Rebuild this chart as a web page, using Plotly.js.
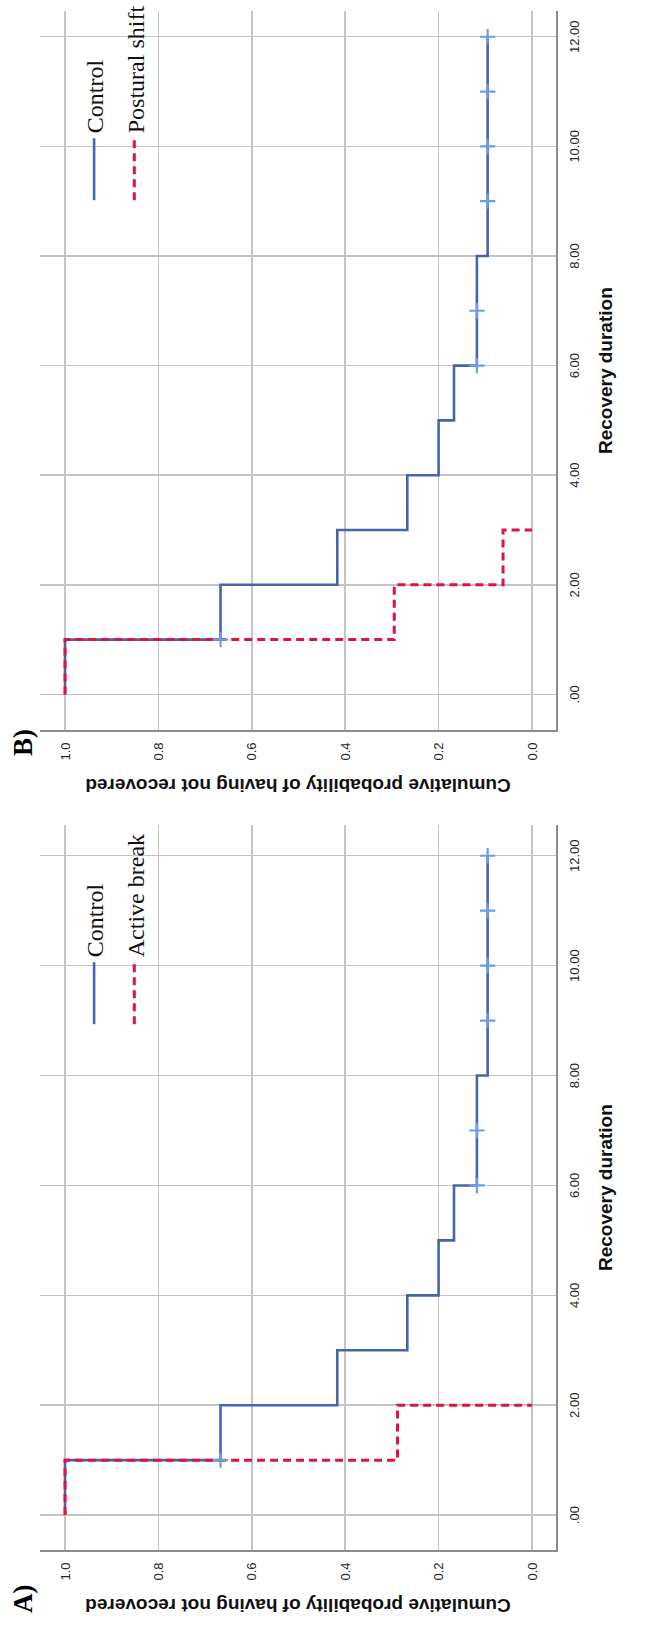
<!DOCTYPE html>
<html>
<head>
<meta charset="utf-8">
<script src="https://cdn.plot.ly/plotly-3.0.1.min.js"></script>
<style>
  html, body { margin: 0; padding: 0; background: #ffffff; }
  body { width: 660px; height: 1629px; overflow: hidden; position: relative; }
  /* The two Kaplan-Meier panels are laid out side by side (1629 x 660)
     and the whole figure is turned a quarter turn counter-clockwise. */
  #fig {
    position: absolute; left: 0; top: 0;
    width: 1629px; height: 660px;
    transform-origin: 0 0;
    transform: translateY(1629px) rotate(-90deg);
  }
</style>
</head>
<body>
<div id="fig"></div>
<script>
// Kaplan-Meier estimates: cumulative probability of having not recovered
const timeControl = [0, 1, 2, 3, 4, 5, 6, 8, 12];
const survControl = [1.0, 0.667, 0.417, 0.267, 0.2, 0.167, 0.118, 0.095, 0.095];
const censorTimeControl = [1, 6, 7, 9, 10, 11, 12];
const censorSurvControl = [0.667, 0.118, 0.118, 0.095, 0.095, 0.095, 0.095];

const timeActiveBreak = [0, 1, 2];
const survActiveBreak = [1.0, 0.288, 0.0];

const timePosturalShift = [0, 1, 2, 3];
const survPosturalShift = [1.0, 0.295, 0.062, 0.0];

const timeTickVals = [0, 2, 4, 6, 8, 10, 12];
const timeTickText = ['.00', '2.00', '4.00', '6.00', '8.00', '10.00', '12.00'];
const probTickVals = [0, 0.2, 0.4, 0.6, 0.8, 1.0];
const probTickText = ['0.0', '0.2', '0.4', '0.6', '0.8', '1.0'];

const W = 1629, H = 660;
const BLUE = '#4565ab';
const RED = '#dc1446';
const CENSOR = '#6a9fe6';

function controlTrace(xa, ya, legend) {
  return {
    x: timeControl, y: survControl, xaxis: xa, yaxis: ya,
    type: 'scatter', mode: 'lines', line: { shape: 'hv', color: BLUE, width: 2.6 },
    name: 'Control', legend: legend, legendgroup: legend + 'c', legendrank: 1
  };
}
function censorTrace(xa, ya) {
  return {
    x: censorTimeControl, y: censorSurvControl, xaxis: xa, yaxis: ya,
    type: 'scatter', mode: 'markers', showlegend: false,
    marker: { symbol: 'cross-thin', size: 11, line: { color: CENSOR, width: 2.2 } }
  };
}
function groupTrace(t, s, name, xa, ya, legend) {
  return {
    x: t, y: s, xaxis: xa, yaxis: ya,
    type: 'scatter', mode: 'lines',
    line: { shape: 'hv', color: RED, width: 3, dash: '8px,5px' },
    name: name, legend: legend, legendgroup: legend + 'g', legendrank: 2
  };
}

const data = [
  controlTrace('x', 'y', 'legend'),
  groupTrace(timeActiveBreak, survActiveBreak, 'Active break', 'x', 'y', 'legend'),
  censorTrace('x', 'y'),
  controlTrace('x2', 'y2', 'legend2'),
  groupTrace(timePosturalShift, survPosturalShift, 'Postural shift', 'x2', 'y2', 'legend2'),
  censorTrace('x2', 'y2')
];

const tickFont = { family: 'Liberation Sans, Arial, sans-serif', size: 13, color: '#262626' };
const titleFont = { family: 'Liberation Sans, Arial, sans-serif', size: 19, color: '#111111', weight: 'bold' };

function timeAxis(domain, range, anchor) {
  return {
    domain: domain, range: range, anchor: anchor,
    tickmode: 'array', tickvals: timeTickVals, ticktext: timeTickText,
    showgrid: true, gridcolor: '#c4c4c4', gridwidth: 1.5,
    zeroline: false, showline: true, linecolor: '#8c8c8c', linewidth: 1.5,
    ticks: '', ticklabelstandoff: 6, tickfont: tickFont,
    title: { text: 'Recovery duration', font: titleFont, standoff: 17 }
  };
}
function probAxis(anchor) {
  return {
    domain: [1 - 556 / H, 1 - 40 / H], range: [-0.0514, 1.0536], anchor: anchor,
    tickmode: 'array', tickvals: probTickVals, ticktext: probTickText,
    showgrid: true, gridcolor: '#c4c4c4', gridwidth: 1.5,
    zeroline: false, showline: true, linecolor: '#8c8c8c', linewidth: 1.5,
    ticks: '', ticklabelstandoff: 8, tickfont: tickFont,
    title: { text: 'Cumulative probability of having not recovered', font: titleFont, standoff: 13 }
  };
}

const legendFont = { family: 'Liberation Serif, Times New Roman, serif', size: 24, color: '#111111' };

const layout = {
  width: W, height: H,
  margin: { l: 0, r: 0, t: 0, b: 0 },
  paper_bgcolor: '#ffffff', plot_bgcolor: '#ffffff',
  showlegend: true,
  xaxis: timeAxis([79 / W, 807 / W], [-0.64, 12.56], 'y'),
  yaxis: probAxis('x'),
  xaxis2: timeAxis([902 / W, 1624 / W], [-0.655, 12.47], 'y2'),
  yaxis2: probAxis('x2'),
  legend: {
    x: 602 / W, y: 1 - 72 / H, xanchor: 'left', yanchor: 'top',
    bgcolor: 'rgba(0,0,0,0)', font: legendFont, tracegroupgap: 6, traceorder: 'grouped',
    itemwidth: 62
  },
  legend2: {
    x: 1429 / W, y: 1 - 72 / H, xanchor: 'left', yanchor: 'top',
    bgcolor: 'rgba(0,0,0,0)', font: legendFont, tracegroupgap: 6, traceorder: 'grouped',
    itemwidth: 62
  },
  annotations: [
    { text: '<b>A)</b>', xref: 'paper', yref: 'paper', x: 14 / W, y: 1 - 6 / H,
      xanchor: 'left', yanchor: 'top', showarrow: false,
      font: { family: 'Liberation Serif, Times New Roman, serif', size: 27, color: '#000000' } },
    { text: '<b>B)</b>', xref: 'paper', yref: 'paper', x: 874 / W, y: 1 - 6 / H,
      xanchor: 'left', yanchor: 'top', showarrow: false,
      font: { family: 'Liberation Serif, Times New Roman, serif', size: 27, color: '#000000' } }
  ]
};

Plotly.newPlot('fig', data, layout, { staticPlot: true, displayModeBar: false });
</script>
</body>
</html>
